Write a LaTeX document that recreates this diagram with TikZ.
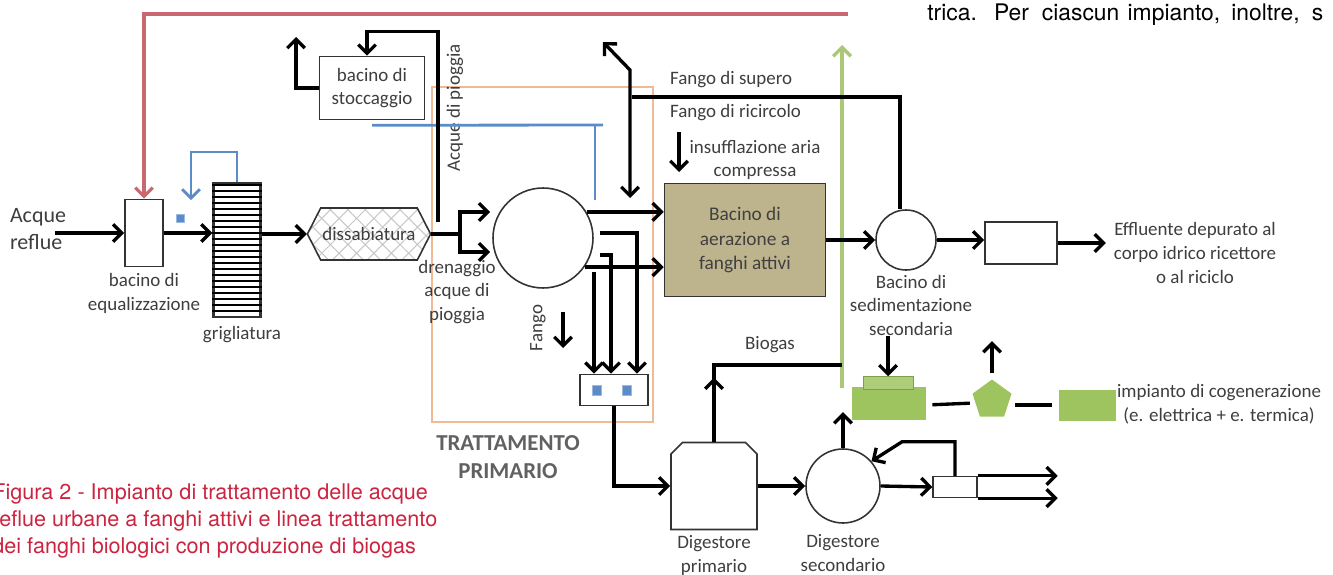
\documentclass[tikz,border=0pt]{standalone}
\usepackage{fontspec}
\setmainfont{Carlito}
\newfontfamily\heros{TeX Gyre Heros}
\usetikzlibrary{arrows.meta}
\usetikzlibrary{positioning,calc}
\usetikzlibrary{shapes.geometric,shapes.misc,shapes.symbols}
\usetikzlibrary{patterns.meta}
\definecolor{redline}{RGB}{201,104,112}
\definecolor{blueline}{RGB}{92,140,200}
\definecolor{greenline}{RGB}{170,200,120}
\definecolor{greenfill}{RGB}{158,196,96}
\definecolor{khaki}{RGB}{189,180,142}
\definecolor{orangebox}{RGB}{240,186,150}
\definecolor{capred}{RGB}{204,36,64}
\definecolor{lblgray}{RGB}{62,62,62}

\begin{document}
\begin{tikzpicture}[
		x=0.02cm, y=-0.02cm,% one unit = one pixel of the picture, y going down
		font=\fontsize{10.8}{13.5}\selectfont,
		tank/.style = {rectangle, draw=black!80, line width=0.9pt,% plain basins
			inner sep=1pt, align=center, text=lblgray},
		round/.style = {circle, draw=black!80, line width=0.9pt, inner sep=0pt},
		lbl/.style = {align=center, text=lblgray, inner sep=1pt},
		flow/.style = {line width=1.9pt},
		tip/.style = {-{Straight Barb[length=5pt,width=10pt]}},
		arr/.style = {flow, tip},
		arr2/.style = {flow, {Straight Barb[length=5pt,width=10pt]}-{Straight Barb[length=5pt,width=10pt]}},
		redflow/.style = {line width=1.8pt, draw=redline, tip},
		blueflow/.style = {line width=1.6pt, draw=blueline},
		greenflow/.style = {line width=2pt, draw=greenline},
		gbox/.style = {rectangle, fill=greenfill, inner sep=0pt},
		sq/.style = {rectangle, fill=blueline, draw=blueline!60, minimum width=0.18cm,
			minimum height=0.2cm, inner sep=0pt},
		]
		\useasboundingbox (0,0) rectangle (1333,575);
		\clip (0,0) rectangle (1333,575);
		
		% primary treatment frame
		\node[draw=orangebox, line width=1.1pt, minimum width=4.42cm, minimum height=6.7cm,
			inner sep=0pt] (prim) at (542.5,254.5) {};
		\node[lbl, font=\bfseries\fontsize{13}{16}\selectfont, text=black!62] (primlbl) at (508,457) {TRATTAMENTO\\PRIMARIO};
		
		% main line
		\node[lbl, font=\fontsize{12.5}{15.5}\selectfont, align=left] (acque) at (38,229) {Acque\\reflue};
		\node[tank, minimum width=0.76cm, minimum height=1.34cm] (equal) at (144,233) {};
		\node[lbl, below=0.08cm of equal] (equallbl) {bacino di\\equalizzazione};
		\node[sq, minimum width=0.16cm, minimum height=0.16cm] (bq0) at (180,218) {};
		\node[tank, line width=1.2pt, minimum width=0.94cm, minimum height=2.68cm] (grid) at (237,250) {};
		\foreach \k in {0,...,21}% bars of the screen
		\draw[line width=1.2pt] ($(grid.north west)+(0,3+6*\k)$) -- ($(grid.north east)+(0,3+6*\k)$);
		\node[lbl, below=0.12cm of grid, xshift=0.1cm] (gridlbl) {grigliatura};
		\node[shape=signal, signal to=west and east, signal pointer angle=126,
			draw=black!80, line width=0.9pt, pattern={Hatch[angle=45,distance=7pt,line width=0.6pt]},
			pattern color=black!22, minimum width=2.3cm, minimum height=1.04cm, inner sep=1pt,
			text=lblgray] (dissab) at (369,234) {dissabiatura};
		\node[tank, minimum width=2.1cm, minimum height=1.26cm] (stocc) at (372,88) {bacino di\\stoccaggio};
		\node[lbl, rotate=90] (rainlbl) at (455,108) {Acque di pioggia};
		\node[lbl] (drenlbl) at (457,292) {drenaggio\\acque di\\pioggia};
		\node[round, minimum size=2cm] (primo) at (543,238) {};
		\node[lbl, rotate=90] (fangolbl) at (538,328) {Fango};
		\node[tank, minimum width=1.36cm, minimum height=0.62cm] (box) at (614,390) {};
		\foreach \dx [count=\i] in {-17,13}
		\node[sq] (bq\i) at ($(box.center)+(\dx,0)$) {};
		\node[tank, fill=khaki, minimum width=3.22cm, minimum height=2.26cm, text=black!75,
			font=\fontsize{11}{13.9}\selectfont] (aeraz) at (745,240) {Bacino di\\aerazione a\\fanghi attivi};
		\node[lbl, anchor=west] (superolbl) at (668,80) {Fango di supero};
		\node[lbl, anchor=west] (ricirclbl) at (668,113) {Fango di ricircolo};
		\node[lbl] (airlbl) at (755,160) {insufflazione aria\\compressa};
		\node[round, minimum size=1.2cm] (sedim) at (906,240) {};
		\node[lbl, below=0.04cm of sedim, xshift=0.1cm] (sedimlbl) {Bacino di\\sedimentazione\\secondaria};
		\node[tank, minimum width=1.44cm, minimum height=0.84cm] (finale) at (1021,243) {};
		\node[lbl] (effl) at (1195,253) {Effluente depurato al\\corpo idrico ricettore\\o al riciclo};
		
		% sludge line
		\node[chamfered rectangle, chamfered rectangle corners={north west,north east},
			chamfered rectangle xsep=0.26cm, draw=black!80, line width=0.9pt,
			minimum width=1.72cm, minimum height=1.74cm] (digA) at (714,486) {};
		\node[lbl, below=0.06cm of digA] (digAlbl) {Digestore\\primario};
		\node[round, minimum size=1.48cm] (digB) at (843,486) {};
		\node[lbl, below=0.18cm of digB] (digBlbl) {Digestore\\secondario};
		\node[tank, line width=0.8pt, minimum width=0.88cm, minimum height=0.42cm] (boxB) at (955,487) {};
		\node[lbl] (biolbl) at (770,345) {Biogas};
		
		% cogeneration
		\node[gbox, minimum width=1.48cm, minimum height=0.66cm] (gLow) at (889,403) {};
		\node[gbox, fill=greenfill!85!white, draw=greenfill!80!black, line width=0.3pt,
			minimum width=1.0cm, minimum height=0.26cm] (gUp) at (888,383) {};
		\node[regular polygon, regular polygon sides=5, fill=greenfill, minimum size=0.82cm,
			inner sep=0pt] (penta) at (992,400) {};
		\node[gbox, minimum width=1.14cm, minimum height=0.62cm] (gRight) at (1087,405) {};
		\node[lbl, anchor=west] (cogen) at (1115,404) {impianto di cogenerazione\\(e. elettrica + e. termica)};
		
		% texts of the page
		\node[anchor=base west, inner sep=0pt, font=\heros\fontsize{13}{16}\selectfont] (topline) at (927,20)
		{\makebox[38pt][l]{trica.}\makebox[27.2pt][l]{Per}\makebox[48.8pt][l]{ciascun}\makebox[59pt][l]{impianto,}\makebox[45.9pt][l]{inoltre,}s};
		\node[anchor=west, align=left, inner sep=0pt, text=capred, font=\heros\fontsize{12.3}{15.3}\selectfont] (capt) at (-8,521)
		{Figura 2 - Impianto di trattamento delle acque\\reflue urbane a fanghi attivi e linea trattamento\\dei fanghi biologici con produzione di biogas};
		
		% free ends
		\coordinate (inA) at (55,233);
		\coordinate (redA) at (848,14);
		\coordinate (blueA) at (191,200);
		\coordinate (split) at (460,234);
		\coordinate (inP1) at (490,212);
		\coordinate (inP2) at (490,252);
		\coordinate (rainA) at (438,222);
		\coordinate (upA) at (296,37);
		\coordinate (blueB) at (603,125);
		\coordinate (blueC) at (595,200);
		\coordinate (dA) at (594,272);
		\coordinate (dB) at (600,255);
		\coordinate (dC) at (600,233);
		\coordinate (fgA) at (563,312);
		\coordinate (bioA) at (842,365);
		\coordinate (gA) at (842,388);
		\coordinate (gB) at (842,45);
		\coordinate (supA) at (632,97);
		\coordinate (recA) at (630,198);
		\coordinate (recB) at (630,70);
		\coordinate (recC) at (603,42);
		\coordinate (airA) at (679,132);
		
		% connectors
		\draw[greenflow, tip] (gA) -- (gB);
		\draw[redflow] (redA) -| (equal.north);
		\draw[blueflow, tip] (grid.north) -- ++(0,-30) -| (blueA);
		\draw[blueflow] ($(stocc.south)+(0,5)$) -- (blueB);
		\draw[blueflow] (blueB -| blueC) -- (blueC);
		\draw[arr] (inA) -- (equal.west |- inA);
		\draw[arr] (equal.east) -- (equal.east -| grid.west);
		\draw[arr] (grid.east |- dissab.west) -- (dissab.west);
		\draw[flow] (dissab.east) -- (split);
		\draw[arr] (split) |- (inP1);
		\draw[arr] (split) |- (inP2);
		\draw[arr] (rainA) |- ($(stocc.north)+(-5,-24)$) -- ($(stocc.north)+(-5,0)$);
		\draw[arr] (stocc.west) -| (upA);
		\draw[arr] (primo.31) -- (primo.31 -| aeraz.west);
		\draw[arr] (primo.-35) -- (primo.-35 -| aeraz.west);
		\draw[arr] (dA) -- (dA |- box.north);
		\draw[arr] (dB) -| ($(box.north)+(-3,0)$);
		\draw[arr] (dC) -| ($(box.north)+(23,0)$);
		\draw[arr] (fgA) -- ++(0,36);
		\draw[arr] (box.south) |- (digA.west);
		\draw[flow] (bioA) -| (digA.north);
		\draw[arr] (digA.north) -- ++(0,-64);
		\draw[arr] (digA.east) -- (digB.west);
		\draw[arr] (digB.north) -- ++(0,-36);
		\draw[arr] (boxB.north) -- ++(0,-34) -- ++(-53,0) -- (digB.41);
		\draw[arr] (digB.east) -- (boxB.west);
		\draw[arr] (boxB.north east) -- ++(80,0);
		\draw[arr] (boxB.south east) -- ++(80,0);
		\draw[flow] (supA) -| ($(sedim.north)+(-6,0)$);
		\draw[arr2] (recC) -- (recB) -- (recA);
		\draw[arr] (airA) -- ++(0,40);
		\draw[arr] (aeraz.east) -- (aeraz.east -| sedim.west);
		\draw[arr] (sedim.east) -- (sedim.east -| finale.west);
		\draw[arr] (finale.east) -- ++(48,0);
		\draw[arr] ($(gUp.north)+(0,-40)$) -- (gUp.north);
		\draw[flow, shorten <=3.4pt, shorten >=2.5pt] (gLow.east |- gRight) -- (gLow.east -| penta.west);
		\draw[arr] ($(penta.north)+(0,-6)$) -- ++(0,-32);
		\draw[flow, shorten <=3pt, shorten >=3.4pt] (penta.east |- gRight) -- (gRight.west);
	\end{tikzpicture}
\end{document}
